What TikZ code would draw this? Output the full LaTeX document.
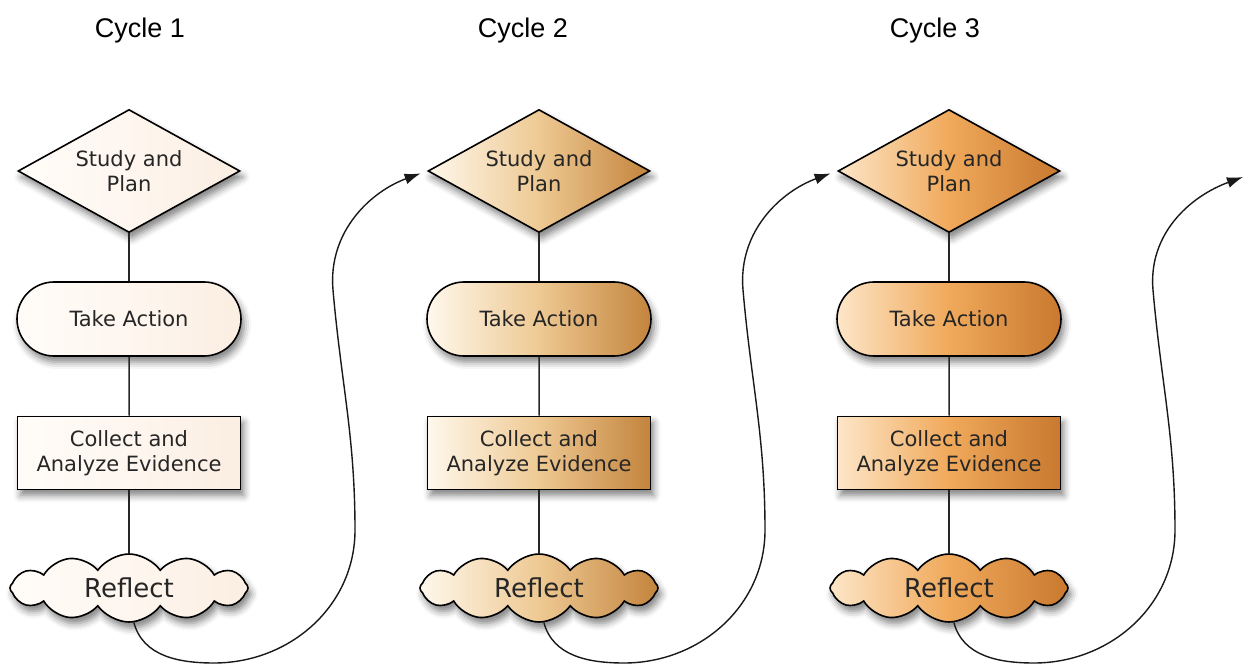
\documentclass[tikz,border=0pt]{standalone}
\usepackage{fontspec}
\setmainfont{Liberation Sans}
\newfontfamily\kastenfont{DejaVu Sans}
\usetikzlibrary{shapes.geometric,shapes.misc,shapes.symbols,shadows.blur,arrows.meta}

\definecolor{einsL}{HTML}{FFFCF8}
\definecolor{einsM}{HTML}{FEF6EF}
\definecolor{einsR}{HTML}{FBEEE2}
\definecolor{zweiL}{HTML}{FFF8EC}
\definecolor{zweiM}{HTML}{EEC993}
\definecolor{zweiR}{HTML}{C3843D}
\definecolor{dreiL}{HTML}{FDE6C8}
\definecolor{dreiM}{HTML}{F0A95B}
\definecolor{dreiR}{HTML}{C8792F}

\tikzset{
  kasten/.style={draw=black, line width=1.6pt, text=black!85, align=center, inner sep=0pt,
    font=\kastenfont\fontsize{21}{25}\selectfont,
    blur shadow={shadow xshift=3pt, shadow yshift=-6pt, shadow blur radius=7pt, shadow opacity=50}},
  plan/.style={kasten, diamond, aspect=1.8, minimum width=222pt, minimum height=123pt},
  aktion/.style={kasten, rounded rectangle, minimum width=224pt, minimum height=74pt},
  sammeln/.style={kasten, rectangle, minimum width=223pt, minimum height=73pt},
  wolke/.style={kasten, cloud, cloud puffs=12, cloud puff arc=110, aspect=3.5,
    minimum width=238pt, minimum height=68pt, font=\kastenfont\fontsize{26}{30}\selectfont},
  eins/.style={left color=einsL, right color=einsR, middle color=einsM},
  zwei/.style={left color=zweiL, right color=zweiR, middle color=zweiM},
  drei/.style={left color=dreiL, right color=dreiR, middle color=dreiM},
  titel/.style={font=\fontsize{27}{29}\selectfont},
  strich/.style={line width=1.5pt, black!85},
  bogen/.style={line width=1.4pt, black!90, -{Latex[length=16pt,width=11pt]}}
}

\begin{document}
\begin{tikzpicture}[x=1pt,y=1pt]
\useasboundingbox (0,0) rectangle (1248,665);

%Ueberschriften
\node[titel] (t1) at (140,634) {Cycle 1};
\node[titel] (t2) at (523,634) {Cycle 2};
\node[titel] (t3) at (935,634) {Cycle 3};

%Zyklus 1
\node[plan, eins] (plan1) at (129,494) {Study and\\Plan};
\node[aktion, eins] (akt1) at (129,346) {Take Action};
\node[sammeln, eins] (samm1) at (129,212) {Collect and\\Analyze Evidence};
\node[wolke, eins] (refl1) at (129,77) {Reflect};
\draw[strich] (plan1) -- (akt1);
\draw[strich] (akt1) -- (samm1);
\draw[strich] (samm1) -- (refl1);

%Zyklus 2
\node[plan, zwei] (plan2) at (539,494) {Study and\\Plan};
\node[aktion, zwei] (akt2) at (539,346) {Take Action};
\node[sammeln, zwei] (samm2) at (539,212) {Collect and\\Analyze Evidence};
\node[wolke, zwei] (refl2) at (539,77) {Reflect};
\draw[strich] (plan2) -- (akt2);
\draw[strich] (akt2) -- (samm2);
\draw[strich] (samm2) -- (refl2);

%Zyklus 3
\node[plan, drei] (plan3) at (949,494) {Study and\\Plan};
\node[aktion, drei] (akt3) at (949,346) {Take Action};
\node[sammeln, drei] (samm3) at (949,212) {Collect and\\Analyze Evidence};
\node[wolke, drei] (refl3) at (949,77) {Reflect};
\draw[strich] (plan3) -- (akt3);
\draw[strich] (akt3) -- (samm3);
\draw[strich] (samm3) -- (refl3);

%Boegen
\coordinate (ende3) at (1243,488);

\draw[bogen, shorten >=7pt] (refl1.-82) to[out=-75,in=180] (214,2) to[out=0,in=-90] (355,135)
  to[out=90,in=-85] (333,375) to[out=95,in=200] (plan2.west);
\draw[bogen, shorten >=7pt] (refl2.-82) to[out=-75,in=180] (624,2) to[out=0,in=-90] (765,135)
  to[out=90,in=-85] (743,375) to[out=95,in=200] (plan3.west);
\draw[bogen] (refl3.-82) to[out=-75,in=180] (1034,2) to[out=0,in=-90] (1175,135)
  to[out=90,in=-85] (1153,375) to[out=95,in=200] (ende3);

\end{tikzpicture}
\end{document}
